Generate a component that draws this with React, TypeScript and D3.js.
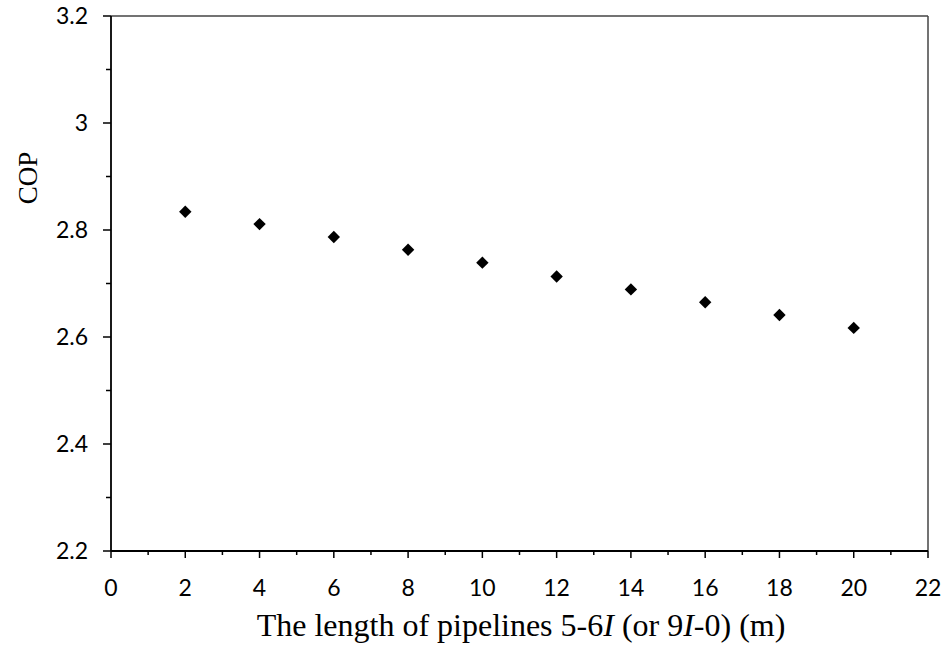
import React from "react";
import * as d3 from "d3";

const xValues = [2, 4, 6, 8, 10, 12, 14, 16, 18, 20];
const copValues = [2.834, 2.811, 2.787, 2.763, 2.739, 2.713, 2.689, 2.665, 2.641, 2.617];
const xTicks = [0, 2, 4, 6, 8, 10, 12, 14, 16, 18, 20, 22];
const xMinorTicks = [1, 3, 5, 7, 9, 11, 13, 15, 17, 19, 21];
const yTicks = [2.2, 2.4, 2.6, 2.8, 3, 3.2];
const yMinorTicks = [2.3, 2.5, 2.7, 2.9, 3.1];

const W = 946, H = 651;
const left = 111, right = 928, top = 16, bottom = 551;

export default function App() {
  const x = d3.scaleLinear().domain([0, 22]).range([left, right]);
  const y = d3.scaleLinear().domain([2.2, 3.2]).range([bottom, top]);
  const diamond = d3.symbol().type(d3.symbolDiamond2).size(98)();
  const tickFont = "Lato, 'Open Sans', sans-serif";
  const serif = "'Liberation Serif', 'Times New Roman', serif";
  return (
    <svg width={W} height={H} style={{ position: "absolute", left: 0, top: 0, background: "#fff" }}>
      <rect x={0} y={0} width={W} height={H} fill="#fff" />
      {/* box */}
      <line x1={left} x2={right} y1={top} y2={top} stroke="#444" strokeWidth={1.5} />
      <line x1={right} x2={right} y1={top} y2={bottom} stroke="#444" strokeWidth={1.5} />
      {/* axes */}
      <line x1={left} x2={left} y1={top} y2={bottom} stroke="#000" strokeWidth={1.8} />
      <line x1={left} x2={right} y1={bottom} y2={bottom} stroke="#000" strokeWidth={1.8} />
      {yTicks.map((t) => (
        <g key={"y" + t}>
          <line x1={left - 8} x2={left} y1={y(t)} y2={y(t)} stroke="#000" strokeWidth={1.5} />
          <text x={left - 23} y={y(t)} dy="0.35em" textAnchor="end" fontFamily={tickFont} fontSize={23} fill="#000">
            {d3.format("")(t)}
          </text>
        </g>
      ))}
      {yMinorTicks.map((t) => (
        <line key={"ym" + t} x1={left - 5} x2={left} y1={y(t)} y2={y(t)} stroke="#000" strokeWidth={1.5} />
      ))}
      {xTicks.map((t) => (
        <g key={"x" + t}>
          <line x1={x(t)} x2={x(t)} y1={bottom} y2={bottom + 7} stroke="#000" strokeWidth={1.5} />
          <text x={x(t)} y={bottom + 45} textAnchor="middle" fontFamily={tickFont} fontSize={23} fill="#000">
            {t}
          </text>
        </g>
      ))}
      {xMinorTicks.map((t) => (
        <line key={"xm" + t} x1={x(t)} x2={x(t)} y1={bottom} y2={bottom + 4} stroke="#000" strokeWidth={1.5} />
      ))}
      {xValues.map((v, i) => (
        <path key={"p" + i} d={diamond || ""} transform={`translate(${x(v)},${y(copValues[i])})`} fill="#000" />
      ))}
      <text
        transform={`translate(37,178) rotate(-90)`}
        textAnchor="middle"
        fontFamily={serif}
        fontSize={27}
        fill="#000"
      >
        COP
      </text>
      <text x={521} y={636} textAnchor="middle" fontFamily={serif} fontSize={32} fill="#000">
        The length of pipelines 5-6<tspan fontStyle="italic">I</tspan> (or 9<tspan fontStyle="italic">I</tspan>-0) (m)
      </text>
    </svg>
  );
}
